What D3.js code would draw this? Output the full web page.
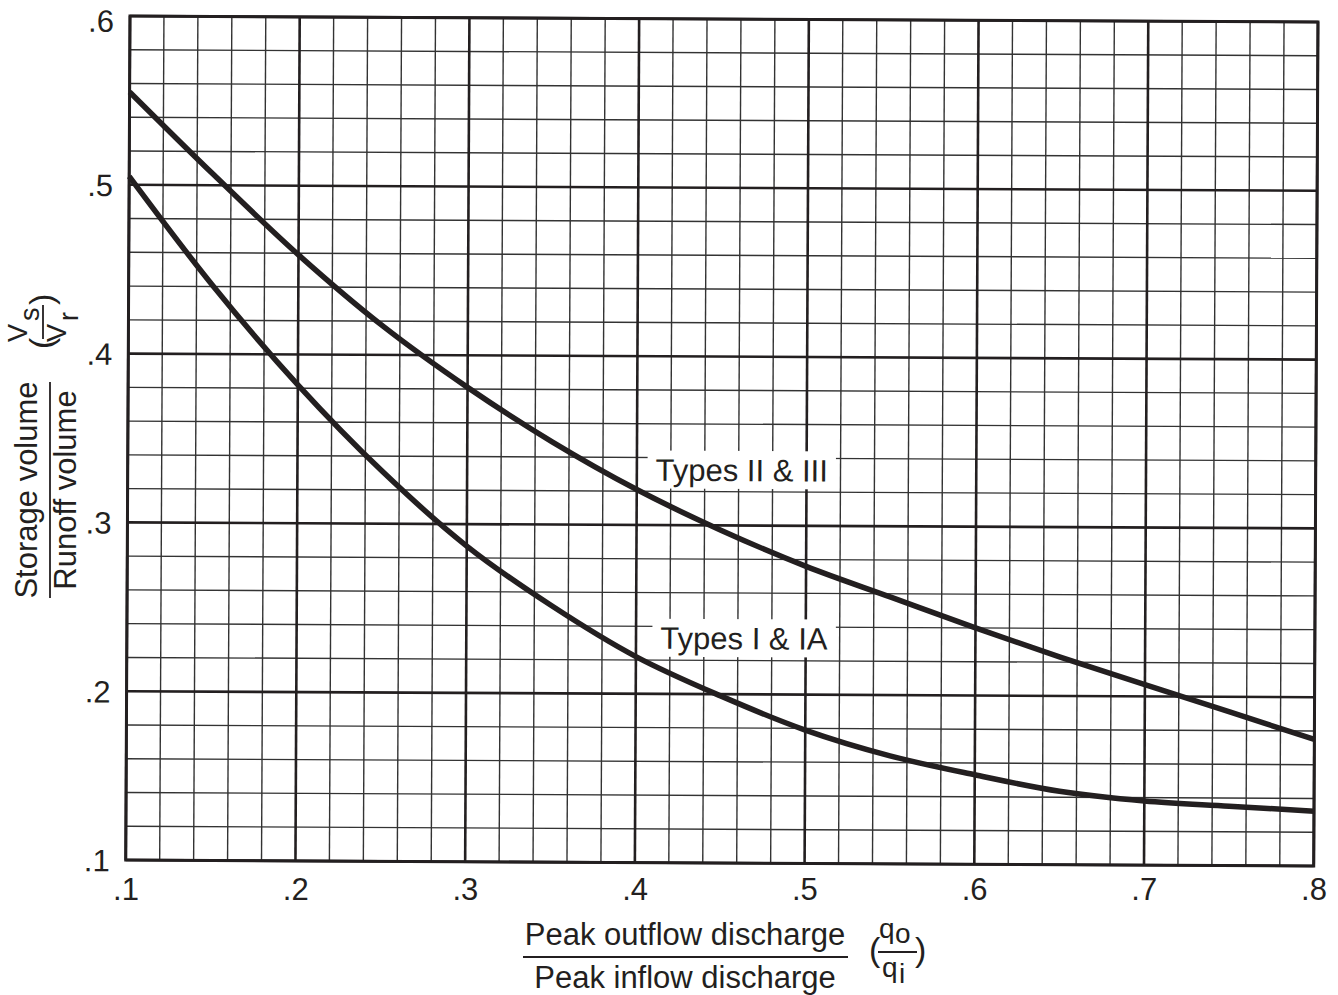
<!DOCTYPE html>
<html>
<head>
<meta charset="utf-8">
<script src="https://cdn.jsdelivr.net/npm/d3@7"></script>
<style>
  html, body { margin: 0; padding: 0; background: #fff; }
  svg { display: block; font-family: "Liberation Sans", Arial, Helvetica, sans-serif; }
</style>
</head>
<body>
<svg id="chart" width="1338" height="995"></svg>
<script>
// ---- data ----
const qoqi          = [0.10, 0.15, 0.20, 0.25, 0.30, 0.35, 0.40, 0.45, 0.50, 0.55, 0.60, 0.65, 0.70, 0.75, 0.80];
const typesIIandIII = [0.555, 0.506, 0.459, 0.417, 0.381, 0.349, 0.321, 0.297, 0.276, 0.258, 0.240, 0.223, 0.207, 0.191, 0.175];
const typesIandIA   = [0.505, 0.440, 0.382, 0.331, 0.287, 0.252, 0.222, 0.199, 0.179, 0.164, 0.153, 0.1435, 0.138, 0.1352, 0.1325];
const xTickValues = [0.1, 0.2, 0.3, 0.4, 0.5, 0.6, 0.7, 0.8];
const xTickLabels = [".1", ".2", ".3", ".4", ".5", ".6", ".7", ".8"];
const yTickValues = [0.1, 0.2, 0.3, 0.4, 0.5, 0.6];
const yTickLabels = [".1", ".2", ".3", ".4", ".5", ".6"];
const minorStep = 0.02;
const curveNames  = ["Types II & III", "Types I & IA"];
const curveLabelX = [0.4618, 0.4636];
const curveLabelY = [0.3329, 0.2333];

// ---- layout ----
const ink = "#231f20";
const svg = d3.select("#chart");
svg.append("rect").attr("width", 1338).attr("height", 995).attr("fill", "#fff");

const plotW = 1188, plotH = 844;
const angle = Math.atan2(6, 1188) * 180 / Math.PI;
const x = d3.scaleLinear().domain([0.1, 0.8]).range([0, plotW]);
const y = d3.scaleLinear().domain([0.1, 0.6]).range([plotH, 0]);

const g = svg.append("g").attr("transform", `translate(130,16) rotate(${angle})`);

// minor grid
const isMajor = v => Math.abs(v * 10 - Math.round(v * 10)) < 1e-6;
const minorX = d3.range(0, 36).map(i => 0.1 + i * minorStep).filter(v => !isMajor(v));
const minorY = d3.range(0, 26).map(i => 0.1 + i * minorStep).filter(v => !isMajor(v));
g.append("g").selectAll("line").data(minorX).join("line")
  .attr("x1", d => x(d)).attr("x2", d => x(d)).attr("y1", 0).attr("y2", plotH)
  .attr("stroke", "#333").attr("stroke-width", 1.4);
g.append("g").selectAll("line").data(minorY).join("line")
  .attr("y1", d => y(d)).attr("y2", d => y(d)).attr("x1", 0).attr("x2", plotW)
  .attr("stroke", "#333").attr("stroke-width", 1.4);
// major grid
g.append("g").selectAll("line").data(xTickValues).join("line")
  .attr("x1", d => x(d)).attr("x2", d => x(d)).attr("y1", 0).attr("y2", plotH)
  .attr("stroke", ink).attr("stroke-width", 2.6);
g.append("g").selectAll("line").data(yTickValues).join("line")
  .attr("y1", d => y(d)).attr("y2", d => y(d)).attr("x1", 0).attr("x2", plotW)
  .attr("stroke", ink).attr("stroke-width", 2.6);
g.append("rect").attr("x", 0).attr("y", 0).attr("width", plotW).attr("height", plotH)
  .attr("fill", "none").attr("stroke", ink).attr("stroke-width", 3);

// y axis tick labels (follow the tilted left edge)
const yAxis = d3.axisLeft(y).tickValues(yTickValues).tickSize(0).tickPadding(16)
  .tickFormat((d, i) => yTickLabels[i]);
const ya = g.append("g").call(yAxis);
ya.select(".domain").remove();
ya.selectAll("text").attr("font-size", 31).attr("fill", ink)
  .attr("font-family", '"Liberation Sans", Arial, Helvetica, sans-serif')
  .attr("dy", d => d === 0.6 ? "0.5em" : "0.35em");

// curves
const line = d3.line().x(d => x(d[0])).y(d => y(d[1])).curve(d3.curveCatmullRom.alpha(0.5));
[typesIIandIII, typesIandIA].forEach(series => {
  g.append("path").datum(qoqi.map((q, i) => [q, series[i]]))
    .attr("d", line).attr("fill", "none").attr("stroke", ink)
    .attr("stroke-width", 5.5).attr("stroke-linejoin", "round").attr("stroke-linecap", "butt");
});

// curve labels with white boxes
curveNames.forEach((name, i) => {
  const lg = g.append("g").attr("transform", `translate(${x(curveLabelX[i])},${y(curveLabelY[i])})`);
  const t = lg.append("text").attr("text-anchor", "middle").attr("dy", "0.36em")
    .attr("font-size", 31).attr("fill", ink).text(name);
  const bb = t.node().getBBox();
  lg.insert("rect", "text").attr("x", bb.x - 8).attr("y", -19).attr("width", bb.width + 16).attr("height", 38)
    .attr("fill", "#fff");
});

// x axis tick labels (horizontal row)
const xl = d3.scaleLinear().domain([0.1, 0.8]).range([126, 1314]);
svg.append("g").selectAll("text").data(xTickValues).join("text")
  .attr("x", d => xl(d)).attr("y", 900).attr("text-anchor", "middle")
  .attr("font-size", 31).attr("fill", ink).text((d, i) => xTickLabels[i]);

// x axis title
const xt = svg.append("g").attr("fill", ink);
xt.append("text").attr("x", 685).attr("y", 945).attr("text-anchor", "middle").attr("font-size", 31).text("Peak outflow discharge");
xt.append("line").attr("x1", 523).attr("x2", 848).attr("y1", 957).attr("y2", 957).attr("stroke", ink).attr("stroke-width", 1.8);
xt.append("text").attr("x", 685).attr("y", 988).attr("text-anchor", "middle").attr("font-size", 31).text("Peak inflow discharge");
xt.append("text").attr("x", 869).attr("y", 961).attr("font-size", 34).text("(");
xt.append("text").attr("x", 915).attr("y", 961).attr("font-size", 34).text(")");
xt.append("text").attr("x", 879).attr("y", 938).attr("font-size", 28).text("q");
xt.append("text").attr("x", 895).attr("y", 943).attr("font-size", 28).text("o");
xt.append("line").attr("x1", 878).attr("x2", 917).attr("y1", 952).attr("y2", 952).attr("stroke", ink).attr("stroke-width", 1.8);
xt.append("text").attr("x", 882).attr("y", 977).attr("font-size", 28).text("q");
xt.append("text").attr("x", 899).attr("y", 983).attr("font-size", 28).text("i");

// y axis title
const yt = svg.append("g").attr("transform", "translate(50,490) rotate(-90)").attr("fill", ink);
yt.append("text").attr("x", 0).attr("y", -13).attr("text-anchor", "middle").attr("font-size", 31).text("Storage volume");
yt.append("line").attr("x1", -108).attr("x2", 108).attr("y1", 0).attr("y2", 0).attr("stroke", ink).attr("stroke-width", 1.8);
yt.append("text").attr("x", 0).attr("y", 26).attr("text-anchor", "middle").attr("font-size", 31).text("Runoff volume");

const yf = svg.append("g").attr("transform", "translate(43,321) rotate(-90)").attr("fill", ink);
yf.append("text").attr("x", -28).attr("y", 10).attr("font-size", 34).text("(");
yf.append("text").attr("x", 16).attr("y", 10).attr("font-size", 34).text(")");
yf.append("text").attr("x", -21).attr("y", -16).attr("font-size", 27).text("V");
yf.append("text").attr("x", 0).attr("y", -4).attr("font-size", 27).text("s");
yf.append("line").attr("x1", -18).attr("x2", 16).attr("y1", 0).attr("y2", 0).attr("stroke", ink).attr("stroke-width", 1.8);
yf.append("text").attr("x", -21).attr("y", 23).attr("font-size", 27).text("V");
yf.append("text").attr("x", 0).attr("y", 35).attr("font-size", 27).text("r");
</script>
</body>
</html>
